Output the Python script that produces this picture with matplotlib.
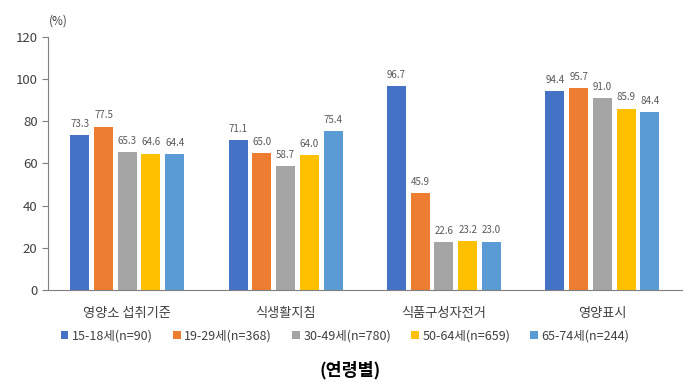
import numpy as np
import matplotlib.pyplot as plt

plt.rcParams['font.family'] = ['Noto Sans CJK KR', 'DejaVu Sans']

categories = ['영양소 섭취기준', '식생활지침', '식품구성자전거', '영양표시']
groups = ['15-18세(n=90)', '19-29세(n=368)', '30-49세(n=780)', '50-64세(n=659)', '65-74세(n=244)']
values = [
    [73.3, 71.1, 96.7, 94.4],
    [77.5, 65.0, 45.9, 95.7],
    [65.3, 58.7, 22.6, 91.0],
    [64.6, 64.0, 23.2, 85.9],
    [64.4, 75.4, 23.0, 84.4],
]
colors = ['#4472C4', '#ED7D31', '#A5A5A5', '#FFC000', '#5B9BD5']

fig = plt.figure(figsize=[7, 3.92], dpi=100)
ax = fig.add_axes([0.0686, 0.260, 0.905, 0.646])

x = np.arange(len(categories))
step = 0.15
width = 0.12
for i, (g, vals) in enumerate(zip(groups, values)):
    pos = x + (i - 2) * step
    ax.bar(pos, vals, width, color=colors[i], label=g)
    for p, v in zip(pos, vals):
        ax.text(p, v + 3, '{:.1f}'.format(v), ha='center', va='bottom',
                fontsize=7, color='#595959')

ax.set_xlim(-0.5, 3.5)
ax.set_ylim(0, 120)
ax.set_yticks(range(0, 121, 20))
ax.set_xticks(x)
ax.set_xticklabels(categories, fontsize=9.5, color='#404040')
ax.tick_params(axis='x', length=0, pad=12)
ax.tick_params(axis='y', labelsize=9.5, labelcolor='#404040', color='#7F7F7F',
               length=4, direction='out')
for s in ['top', 'right']:
    ax.spines[s].set_visible(False)
ax.spines['left'].set_color('#7F7F7F')
ax.spines['bottom'].set_color('#7F7F7F')

fig.text(0.070, 0.946, '(%)', fontsize=8.5, color='#404040', ha='left', va='center')

ax.legend(loc='center', bbox_to_anchor=(0.493, 0.143), bbox_transform=fig.transFigure,
          ncol=5, frameon=False, fontsize=9, handlelength=0.6, handleheight=0.6,
          handletextpad=0.3, columnspacing=1.6, labelcolor='#404040')

fig.text(0.5, 0.056, '(연령별)', fontsize=12.5, fontweight='bold', ha='center', va='center')

plt.savefig('out.png', dpi=100)
